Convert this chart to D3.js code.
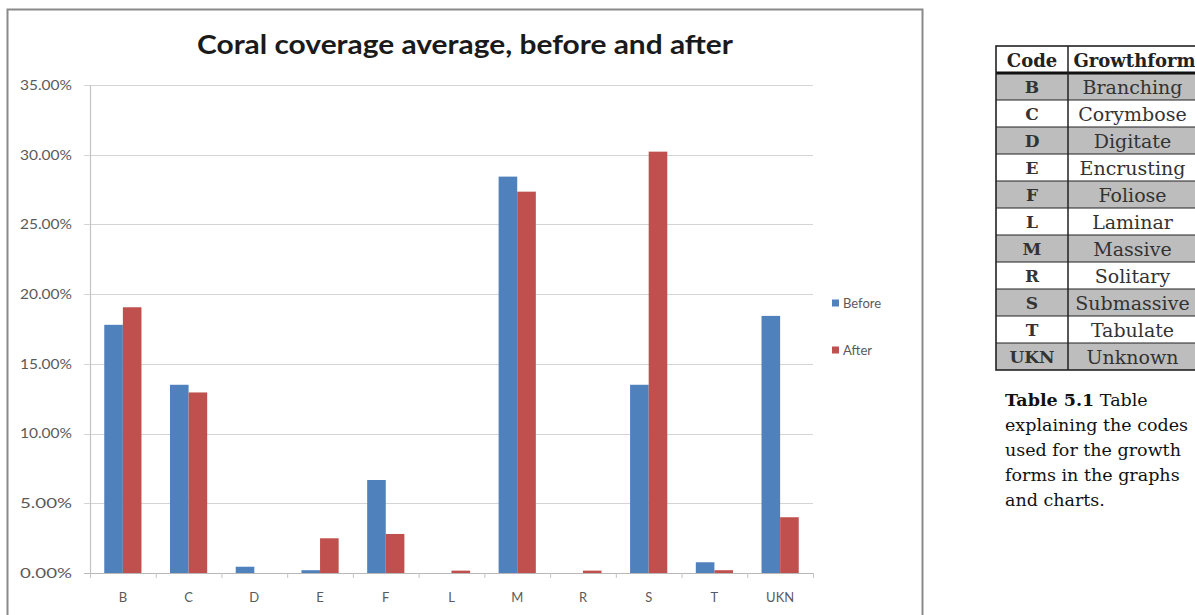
<!DOCTYPE html>
<html>
<head>
<meta charset="utf-8">
<script src="https://cdn.jsdelivr.net/npm/d3@7"></script>
<style>
  html, body { margin: 0; padding: 0; background: #fff; }
  svg { display: block; }
</style>
</head>
<body>
<svg id="chart" width="1195" height="615"></svg>
<script>
// Growth-form codes on the x axis and average coverage (%) per survey
const categories = ["B", "C", "D", "E", "F", "L", "M", "R", "S", "T", "UKN"];
const seriesNames = ["Before", "After"];
const beforeValues = [17.8, 13.5, 0.45, 0.2, 6.67, 0, 28.43, 0, 13.5, 0.77, 18.44];
const afterValues  = [19.06, 12.95, 0, 2.49, 2.8, 0.17, 27.35, 0.17, 30.22, 0.2, 4.0];
const yTicks = [0, 5, 10, 15, 20, 25, 30, 35];

// Code table shown beside the chart
const tableHeader = ["Code", "Growthform"];
const tableCodes = ["B", "C", "D", "E", "F", "L", "M", "R", "S", "T", "UKN"];
const tableForms = ["Branching", "Corymbose", "Digitate", "Encrusting", "Foliose",
                    "Laminar", "Massive", "Solitary", "Submassive", "Tabulate", "Unknown"];
const captionLines = ["explaining the codes", "used for the growth", "forms in the graphs", "and charts."];

const svg = d3.select("#chart");
const colors = { Before: "#4F81BD", After: "#C0504D" };
const sansFont = "Lato, 'Open Sans', sans-serif";
const serifFont = "'DejaVu Serif', serif";

// ---------- chart frame ----------
svg.append("rect").attr("width", 1195).attr("height", 615).attr("fill", "#fff");
svg.append("rect")
  .attr("x", 7.5).attr("y", 9.5).attr("width", 915).attr("height", 620)
  .attr("fill", "#fff").attr("stroke", "#8a8a8a").attr("stroke-width", 2);

svg.append("text")
  .attr("x", 465).attr("y", 54)
  .attr("text-anchor", "middle")
  .attr("font-family", sansFont).attr("font-weight", "bold")
  .attr("font-size", 27).attr("fill", "#1a1a1a")
  .attr("textLength", 536).attr("lengthAdjust", "spacingAndGlyphs")
  .text("Coral coverage average, before and after");

// ---------- scales ----------
const plot = { left: 90, right: 813, top: 85, bottom: 573 };
const x = d3.scaleBand().domain(categories).range([plot.left, plot.right]).paddingInner(0).paddingOuter(0);
const y = d3.scaleLinear().domain([0, 35]).range([plot.bottom, plot.top]);
const barW = x.bandwidth() * 0.283;
const xs = d3.scaleBand().domain(seriesNames).range([0, 2 * barW]);

// gridlines
svg.append("g").selectAll("line").data(yTicks).join("line")
  .attr("x1", plot.left - 6).attr("x2", plot.right)
  .attr("y1", d => Math.round(y(d)) + 0.5).attr("y2", d => Math.round(y(d)) + 0.5)
  .attr("stroke", d => d === 0 ? "#b8b8b8" : "#d4d4d4").attr("stroke-width", 1.2);

// y axis line
svg.append("line")
  .attr("x1", plot.left + 0.5).attr("x2", plot.left + 0.5)
  .attr("y1", plot.top).attr("y2", plot.bottom)
  .attr("stroke", "#c4c4c4").attr("stroke-width", 1.2);

// y tick labels
svg.append("g").selectAll("text").data(yTicks).join("text")
  .attr("x", 72).attr("y", d => y(d))
  .attr("dy", "0.35em").attr("text-anchor", "end")
  .attr("font-family", sansFont).attr("font-size", 14).attr("fill", "#5a5a5a")
  .attr("textLength", 52).attr("lengthAdjust", "spacingAndGlyphs")
  .text(d => d3.format(".2f")(d) + "%");

// x axis ticks between categories
const boundaries = categories.map(c => x(c)).concat([plot.right]);
svg.append("g").selectAll("line").data(boundaries).join("line")
  .attr("x1", d => d + 0.5).attr("x2", d => d + 0.5)
  .attr("y1", plot.bottom).attr("y2", plot.bottom + 5)
  .attr("stroke", "#c4c4c4").attr("stroke-width", 1);

// x labels
svg.append("g").selectAll("text").data(categories).join("text")
  .attr("x", d => x(d) + x.bandwidth() / 2).attr("y", 597)
  .attr("dy", "0.35em").attr("text-anchor", "middle")
  .attr("font-family", sansFont).attr("font-size", 13).attr("fill", "#5a5a5a")
  .text(d => d);

// bars
const rows = categories.map((c, i) => ({ cat: c, Before: beforeValues[i], After: afterValues[i] }));
const groups = svg.append("g").selectAll("g").data(rows).join("g")
  .attr("transform", d => `translate(${x(d.cat) + x.bandwidth() / 2 - barW},0)`);
groups.selectAll("rect")
  .data(d => seriesNames.map(s => ({ s, v: d[s] })))
  .join("rect")
  .attr("x", d => xs(d.s))
  .attr("width", xs.bandwidth())
  .attr("y", d => y(d.v))
  .attr("height", d => y(0) - y(d.v))
  .attr("fill", d => colors[d.s]);

// legend
const legend = svg.append("g").selectAll("g").data(seriesNames).join("g")
  .attr("transform", (d, i) => `translate(832,${303 + i * 47})`);
legend.append("rect").attr("x", 0).attr("y", -3.5).attr("width", 7).attr("height", 7)
  .attr("fill", d => colors[d]);
legend.append("text").attr("x", 11).attr("y", 0).attr("dy", "0.35em")
  .attr("font-family", sansFont).attr("font-size", 13).attr("fill", "#5a5a5a")
  .text(d => d);

// ---------- code table ----------
const tbl = { left: 996, right: 1197, divider: 1068, top: 46, headerH: 27, rowH: 27 };
const tg = svg.append("g");
const rowTop = i => tbl.top + tbl.headerH + i * tbl.rowH;

tg.selectAll("rect.row").data(tableCodes).join("rect")
  .attr("class", "row")
  .attr("x", tbl.left).attr("width", tbl.right - tbl.left)
  .attr("y", (d, i) => rowTop(i)).attr("height", tbl.rowH)
  .attr("fill", (d, i) => i % 2 === 0 ? "#bdbdbd" : "#ffffff");

// header text
tg.selectAll("text.head").data(tableHeader).join("text")
  .attr("class", "head")
  .attr("x", (d, i) => i === 0 ? (tbl.left + tbl.divider) / 2 : (tbl.divider + tbl.right) / 2 + 2)
  .attr("y", tbl.top + tbl.headerH / 2 + 1).attr("dy", "0.35em")
  .attr("text-anchor", "middle")
  .attr("font-family", serifFont).attr("font-weight", "bold").attr("font-size", 18)
  .attr("fill", "#222").text(d => d);

// body text
tg.selectAll("text.code").data(tableCodes).join("text")
  .attr("class", "code")
  .attr("x", (tbl.left + tbl.divider) / 2)
  .attr("y", (d, i) => rowTop(i) + tbl.rowH / 2 + 1).attr("dy", "0.35em")
  .attr("text-anchor", "middle")
  .attr("font-family", serifFont).attr("font-weight", "bold").attr("font-size", 17)
  .attr("fill", "#333").text(d => d);
tg.selectAll("text.form").data(tableForms).join("text")
  .attr("class", "form")
  .attr("x", (tbl.divider + tbl.right) / 2)
  .attr("y", (d, i) => rowTop(i) + tbl.rowH / 2 + 1).attr("dy", "0.35em")
  .attr("text-anchor", "middle")
  .attr("font-family", serifFont).attr("font-size", 19)
  .attr("fill", "#333").text(d => d);

// row separators
tg.selectAll("line.sep").data(d3.range(1, tableCodes.length)).join("line")
  .attr("class", "sep")
  .attr("x1", tbl.left).attr("x2", tbl.right)
  .attr("y1", i => rowTop(i)).attr("y2", i => rowTop(i))
  .attr("stroke", "#222").attr("stroke-width", 1.2);
// heavy rule under header
tg.append("line")
  .attr("x1", tbl.left).attr("x2", tbl.right)
  .attr("y1", rowTop(0)).attr("y2", rowTop(0))
  .attr("stroke", "#111").attr("stroke-width", 3);
// column divider
tg.append("line")
  .attr("x1", tbl.divider).attr("x2", tbl.divider)
  .attr("y1", tbl.top).attr("y2", rowTop(tableCodes.length))
  .attr("stroke", "#222").attr("stroke-width", 1.5);
// outer border
tg.append("rect")
  .attr("x", tbl.left).attr("y", tbl.top)
  .attr("width", tbl.right - tbl.left).attr("height", rowTop(tableCodes.length) - tbl.top)
  .attr("fill", "none").attr("stroke", "#222").attr("stroke-width", 1.6);

// caption
const cap = svg.append("g").attr("font-family", serifFont).attr("font-size", 17.5).attr("fill", "#111");
const first = cap.append("text").attr("x", 1005).attr("y", 406);
first.append("tspan").attr("font-weight", "bold").text("Table 5.1");
first.append("tspan").text(" Table");
cap.selectAll("text.line").data(captionLines).join("text")
  .attr("class", "line")
  .attr("x", 1005).attr("y", (d, i) => 431 + i * 25)
  .text(d => d);
</script>
</body>
</html>
